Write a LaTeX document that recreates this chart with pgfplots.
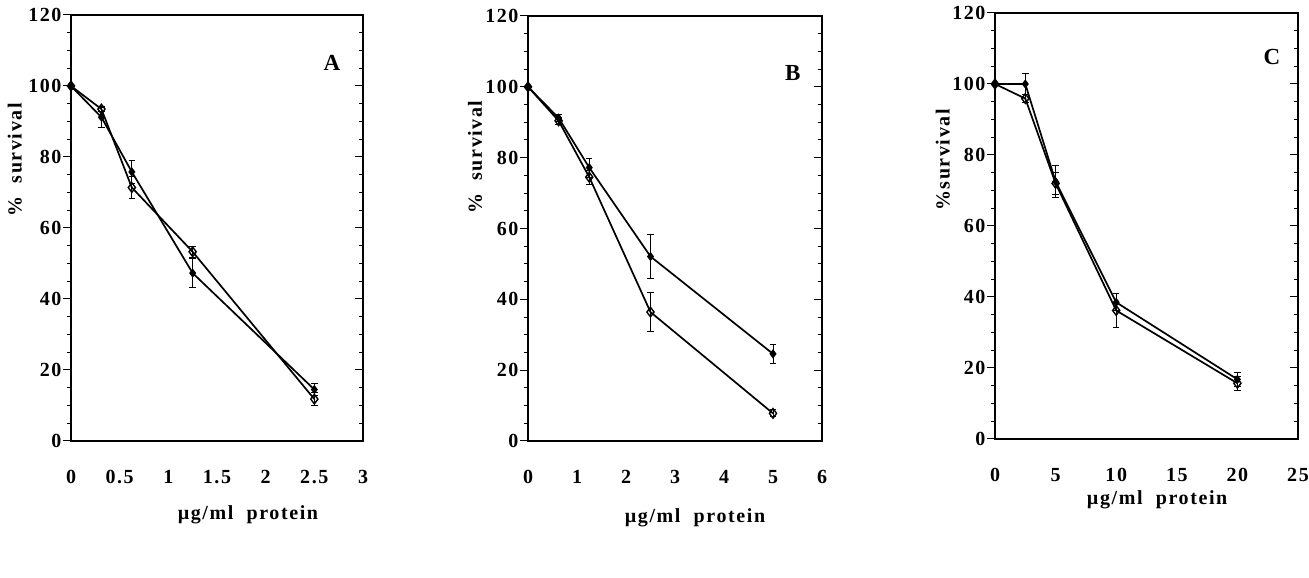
\documentclass[border=0pt]{standalone}
\usepackage{fontspec}
\setmainfont{Liberation Serif}[LetterSpace=8]
\usepackage{pgfplots}
\usepackage{pgfplotstable}
\pgfplotsset{compat=1.18}
\newcommand\lab{\fontsize{20}{22}\selectfont\bfseries}

\pgfplotstableread{
x y e
0 100 0
0.3125 93.5 0.8
0.625 71.4 3
1.25 53.3 1.6
2.5 11.8 1.9
}\Aone
\pgfplotstableread{
x y e
0 100 0
0.3125 91.2 2.8
0.625 75.8 3.3
1.25 47.3 4
2.5 14.5 1.7
}\Atwo
\pgfplotstableread{
x y e
0 100 0
0.625 90.4 1
1.25 74.5 2
2.5 36.4 5.5
5 7.8 1
}\Bone
\pgfplotstableread{
x y e
0 100 0
0.625 91.2 1
1.25 77.2 2.7
2.5 52.1 6.1
5 24.6 2.7
}\Btwo
\pgfplotstableread{
x y e
0 100 0
2.5 95.9 1.2
5 72 3
10 36.2 4.8
20 15.7 2
}\Cone
\pgfplotstableread{
x y e
0 100 0
2.5 100 3
5 72.5 4.6
10 38.5 2.4
20 16.8 1.9
}\Ctwo

\pgfplotsset{
  panel/.style={
    scale only axis, anchor=south west,
    ymin=0, ymax=120,
    ytick={0,20,...,120}, minor ytick={5,10,...,115},
    ytick pos=left, tick align=outside,
    major tick length=8pt, minor tick length=4pt,
    every tick/.style={black, line width=1pt},
    x tick style={draw=none},
    axis line style={line width=1.6pt},
    tick label style={font=\lab},
    label style={font=\lab},
    /pgf/number format/assume math mode=true,
    yticklabel style={anchor=east, xshift=2pt},
    xticklabel style={anchor=center, yshift=-28pt},
    clip=false,
  },
  rside/.style={
    scale only axis, anchor=south west,
    ymin=0, ymax=120,
    axis x line=none, axis y line*=right,
    ytick={0,20,...,120}, minor ytick={5,10,...,115},
    yticklabels={}, tick align=inside,
    major tick length=8pt, minor tick length=4pt,
    every tick/.style={black, line width=1pt},
    axis line style={line width=1.6pt},
  },
  sone/.style={black, line width=1.7pt, mark=diamond, mark size=4.8pt,
    mark options={solid, fill=white, line width=1.4pt},
    error bars/.cd, y dir=both, y explicit,
    error bar style={line width=1pt},
    error mark options={rotate=90, line width=1pt, mark size=3.2pt}},
  stwo/.style={black, line width=1.7pt, mark=diamond*, mark size=3.3pt,
    mark options={solid},
    error bars/.cd, y dir=both, y explicit,
    error bar style={line width=1pt},
    error mark options={rotate=90, line width=1pt, mark size=3.2pt}},
}

\begin{document}
\begin{tikzpicture}[x=1pt,y=1pt]
\useasboundingbox (0,0) rectangle (1309,578);

% Panel A
\begin{axis}[panel, at={(71pt,137pt)}, width=292pt, height=426pt,
  xmin=0, xmax=3, xtick={0,0.5,...,3},
  xlabel={µg/ml\ \ protein}, ylabel={\%\ \ survival},
  xlabel style={at={(axis description cs:0.606,-0.174)}, anchor=center},
  ylabel style={at={(axis description cs:-0.192,0.66)}, anchor=center}]
\addplot[stwo] table[x=x,y=y,y error=e]{\Atwo};
\addplot[sone] table[x=x,y=y,y error=e]{\Aone};
\node[font=\fontsize{23}{25}\selectfont\bfseries] at (axis description cs:0.894,0.887) {A};
\end{axis}
\begin{axis}[rside, at={(71pt,137pt)}, width=292pt, height=426pt, xmin=0, xmax=3]
\end{axis}

% Panel B
\begin{axis}[panel, at={(528pt,137pt)}, width=294pt, height=425pt,
  xmin=0, xmax=6, xtick={0,1,...,6},
  xlabel={µg/ml\ \ protein}, ylabel={\%\ \ survival},
  xlabel style={at={(axis description cs:0.568,-0.181)}, anchor=center},
  ylabel style={at={(axis description cs:-0.18,0.668)}, anchor=center}]
\addplot[stwo] table[x=x,y=y,y error=e]{\Btwo};
\addplot[sone] table[x=x,y=y,y error=e]{\Bone};
\node[font=\fontsize{23}{25}\selectfont\bfseries] at (axis description cs:0.901,0.866) {B};
\end{axis}
\begin{axis}[rside, at={(528pt,137pt)}, width=294pt, height=425pt, xmin=0, xmax=6]
\end{axis}

% Panel C
\begin{axis}[panel, at={(995pt,139pt)}, width=303pt, height=426pt,
  xmin=0, xmax=25, xtick={0,5,...,25},
  xlabel={µg/ml\ \ protein}, ylabel={\%survival},
  xlabel style={at={(axis description cs:0.535,-0.143)}, anchor=center},
  ylabel style={at={(axis description cs:-0.172,0.655)}, anchor=center}]
\addplot[stwo] table[x=x,y=y,y error=e]{\Ctwo};
\addplot[sone] table[x=x,y=y,y error=e]{\Cone};
\node[font=\fontsize{23}{25}\selectfont\bfseries] at (axis description cs:0.914,0.897) {C};
\end{axis}
\begin{axis}[rside, at={(995pt,139pt)}, width=303pt, height=426pt, xmin=0, xmax=25]
\end{axis}
\end{tikzpicture}
\end{document}
